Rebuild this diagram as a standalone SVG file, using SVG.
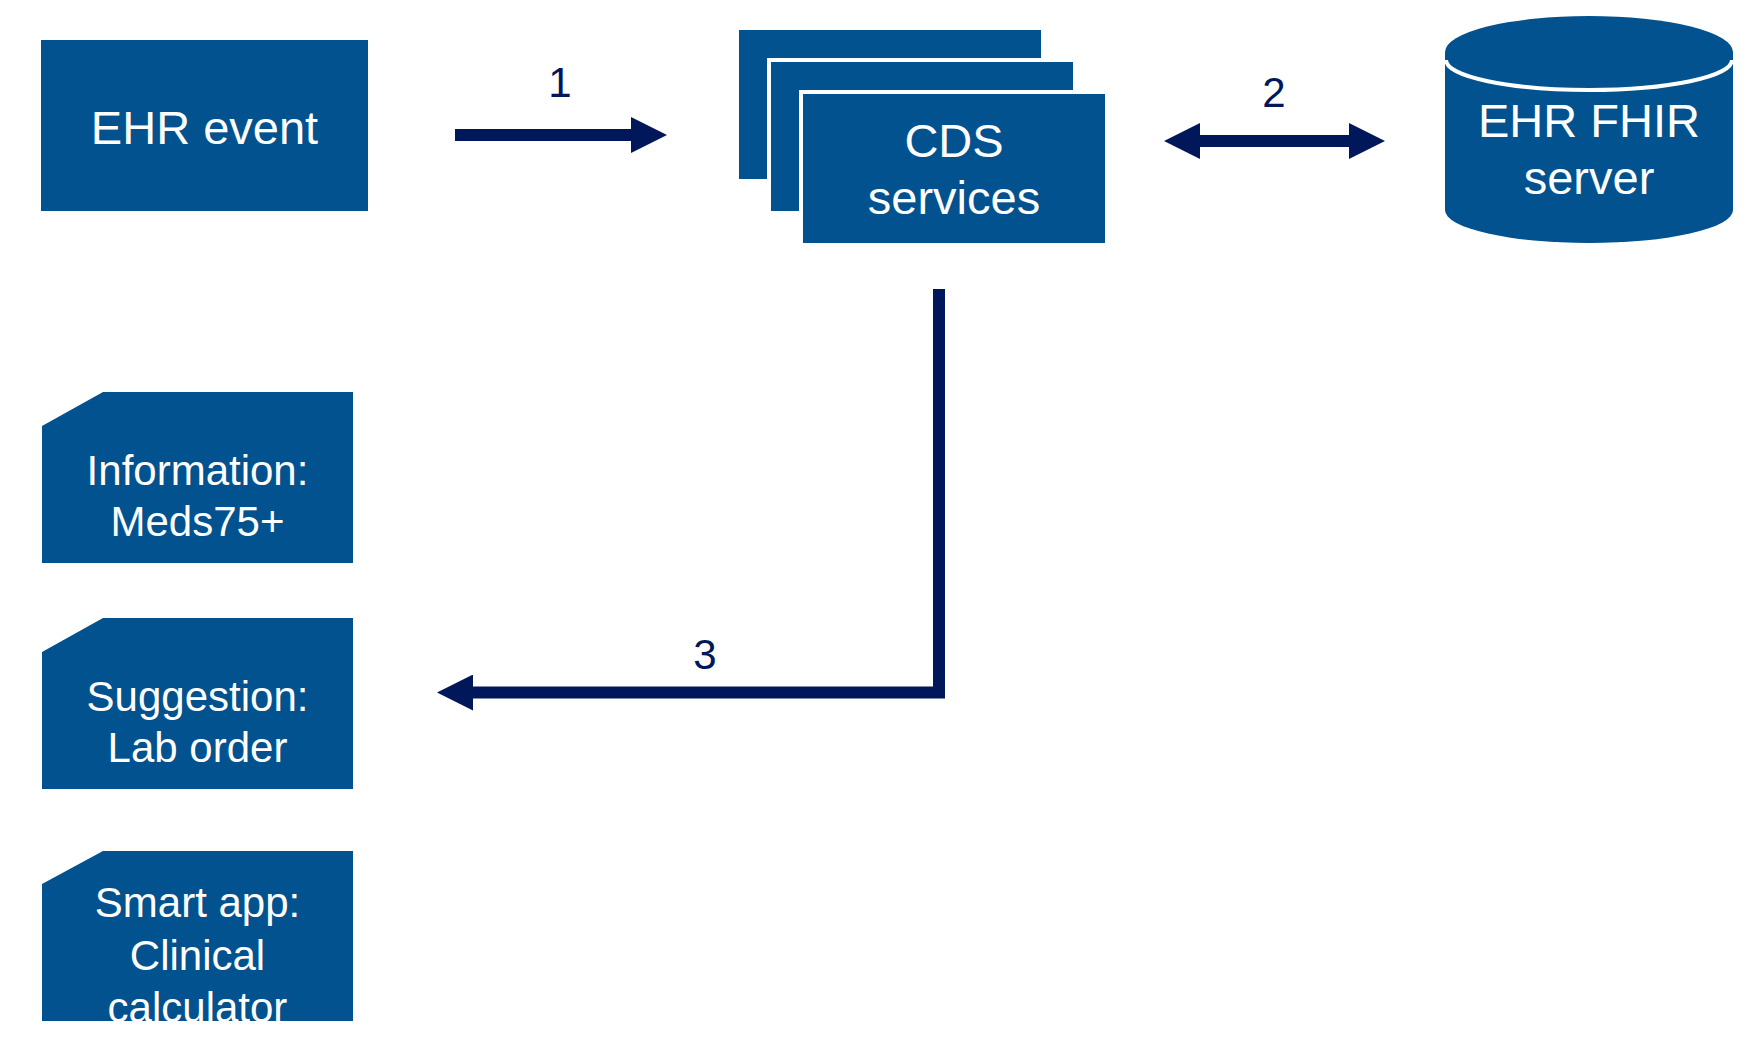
<svg xmlns="http://www.w3.org/2000/svg" width="1758" height="1051" viewBox="0 0 1758 1051">
  <style>
    .node { fill: #02528F; }
    .stk { fill: #02528F; stroke: #FFFFFF; stroke-width: 4; }
    .t { font-family: "Liberation Sans", Arial, sans-serif; fill: #FFFFFF; text-anchor: middle; }
    .big { font-size: 47px; }
    .mid { font-size: 42px; }
    .lbl { font-family: "Liberation Sans", Arial, sans-serif; font-size: 42px; fill: #00185A; text-anchor: middle; }
    .conn { fill: none; stroke: #00185A; stroke-width: 12; stroke-linejoin: miter; stroke-linecap: butt; }
  </style>
  <defs>
    <marker id="ah" viewBox="0 0 36 36" markerWidth="36" markerHeight="36" markerUnits="userSpaceOnUse" refX="0" refY="18" orient="auto-start-reverse">
      <path d="M0,0 L36,18 L0,36 Z" fill="#00185A"/>
    </marker>
    <clipPath id="clipSmart">
      <rect x="42" y="851" width="311" height="170"/>
    </clipPath>
  </defs>
  <rect width="1758" height="1051" fill="#FFFFFF"/>

  <g id="ehr-event">
    <rect class="node" x="41" y="40" width="327" height="171"/>
    <text class="t big" x="204.5" y="144">EHR event</text>
  </g>

  <g id="cds-services">
    <rect class="node" x="739" y="30" width="302" height="149"/>
    <rect class="stk" x="769" y="60" width="306" height="153"/>
    <rect class="stk" x="801" y="92" width="306" height="153"/>
    <text class="t big" x="954" y="157">CDS</text>
    <text class="t big" x="954" y="214">services</text>
  </g>

  <g id="ehr-fhir-server">
    <path class="node" d="M1445,52 A144,36 0 0 1 1733,52 V210 A144,33 0 0 1 1445,210 Z"/>
    <path d="M1446,60 A143,30 0 0 0 1732,60" fill="none" stroke="#FFFFFF" stroke-width="4"/>
    <text class="t big" x="1589" y="137">EHR FHIR</text>
    <text class="t big" x="1589" y="194">server</text>
  </g>

  <g id="information">
    <polygon class="node" points="103,392 353,392 353,563 42,563 42,426"/>
    <text class="t mid" x="197.5" y="485">Information:</text>
    <text class="t mid" x="197.5" y="536">Meds75+</text>
  </g>

  <g id="suggestion">
    <polygon class="node" points="103,618 353,618 353,789 42,789 42,652"/>
    <text class="t mid" x="197.5" y="711">Suggestion:</text>
    <text class="t mid" x="197.5" y="762">Lab order</text>
  </g>

  <g id="smart-app">
    <polygon class="node" points="103,851 353,851 353,1021 42,1021 42,884"/>
    <g clip-path="url(#clipSmart)">
      <text class="t mid" x="197.5" y="917">Smart app:</text>
      <text class="t mid" x="197.5" y="969.5">Clinical</text>
      <text class="t mid" x="197.5" y="1022">calculator</text>
    </g>
  </g>

  <g id="connectors">
    <path class="conn" d="M455,135 H631" marker-end="url(#ah)"/>
    <text class="lbl" x="560" y="97">1</text>
    <path class="conn" d="M1200,141 H1349" marker-start="url(#ah)" marker-end="url(#ah)"/>
    <text class="lbl" x="1274" y="107">2</text>
    <path class="conn" d="M939,289 V692.5 H473" marker-end="url(#ah)"/>
    <text class="lbl" x="705" y="669">3</text>
  </g>
</svg>
